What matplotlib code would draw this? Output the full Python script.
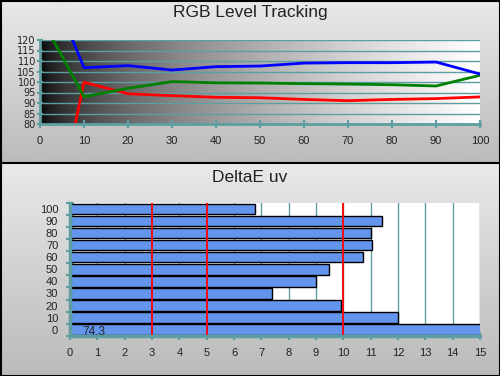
import numpy as np
import matplotlib
matplotlib.use("Agg")
import matplotlib.pyplot as plt

# ------------------------------
# Data
# ------------------------------
levels = [0, 10, 20, 30, 40, 50, 60, 70, 80, 90, 100]
red_vals = [0.5, 99.9, 94.4, 93.5, 92.7, 92.5, 91.7, 91.1, 91.7, 92.1, 92.9]
green_vals = [131.6, 93.0, 97.0, 100.2, 99.6, 99.5, 99.2, 99.0, 98.7, 98.1, 103.2]
blue_vals = [157.6, 106.8, 107.8, 105.7, 107.3, 107.6, 109.0, 109.2, 109.2, 109.5, 103.8]

de_levels = [0, 10, 20, 30, 40, 50, 60, 70, 80, 90, 100]
de_vals = [74.3, 12.01, 9.93, 7.40, 9.01, 9.49, 10.71, 11.06, 11.0, 11.43, 6.78]
de_limits = [3, 5, 10]

W, H = 500, 376
TEAL = "#5F9EA0"
TXT = "#222222"
plt.rcParams["font.family"] = ["Liberation Sans", "DejaVu Sans"]


def px_axes(fig, x0, y0, x1, y1, **kw):
    # pixel box (top-left origin) -> figure fraction axes
    return fig.add_axes([x0 / W, 1 - y1 / H, (x1 - x0) / W, (y1 - y0) / H], **kw)


fig = plt.figure(figsize=(W / 100, H / 100), dpi=100)

# ------------------------------
# Background panels (vertical gray gradients)
# ------------------------------
bg = px_axes(fig, 0, 0, W, H)
bg.set_axis_off()
bg.set_xlim(0, W)
bg.set_ylim(H, 0)
grad = np.linspace(0.91, 0.73, 64).reshape(-1, 1)
bg.imshow(grad, cmap="gray", vmin=0, vmax=1, extent=(0, W, 163, 0), aspect="auto")
bg.imshow(grad, cmap="gray", vmin=0, vmax=1, extent=(0, W, H, 163), aspect="auto")
bg.plot([0, W], [163, 163], color="black", lw=1.5)
bg.plot([0.5, W - 0.5, W - 0.5, 0.5, 0.5], [0.5, 0.5, H - 0.5, H - 0.5, 0.5], color="black", lw=1.5)

fig.text(0.5, 1 - 13 / H, "RGB Level Tracking", ha="center", va="center", fontsize=12.5, color=TXT)
fig.text(0.5, 1 - 177 / H, "DeltaE uv", ha="center", va="center", fontsize=12.5, color=TXT)

# ------------------------------
# Top: RGB level tracking
# ------------------------------
ax = px_axes(fig, 40, 40, 480, 124)
hgrad = np.sqrt(np.linspace(0, 1, 256)).reshape(1, -1) ** 1.1
ax.imshow(hgrad, cmap="gray", vmin=0, vmax=1, extent=(0, 100, 80, 120), aspect="auto", zorder=0)
ax.plot(levels, red_vals, color="red", lw=2)
ax.plot(levels, green_vals, color="green", lw=2)
ax.plot(levels, blue_vals, color="blue", lw=2)
ax.set_xlim(0, 100)
ax.set_ylim(80, 120)
ax.set_xticks(range(0, 101, 10))
ax.set_yticks(range(80, 121, 5))
ax.grid(axis="y", color=TEAL, lw=1)
for s in ["top", "right"]:
    ax.spines[s].set_visible(False)
for s in ["left", "bottom"]:
    ax.spines[s].set_color(TEAL)
    ax.spines[s].set_linewidth(2)
ax.tick_params(axis="x", direction="inout", length=6, width=1.5, color=TEAL,
               labelsize=8, labelcolor=TXT, pad=6)
ax.tick_params(axis="y", direction="inout", length=5, width=1.5, color=TEAL,
               labelsize=7, labelcolor=TXT, pad=0.5)
for lab in ax.get_yticklabels():
    lab.set_family("DejaVu Sans")

# ------------------------------
# Bottom: DeltaE uv bars
# ------------------------------
bx = px_axes(fig, 70, 203, 480, 335.7)
bx.set_facecolor("white")
ypos = np.arange(len(de_levels))
bx.barh(ypos, de_vals, height=0.86, color="#6495ED", edgecolor="black", lw=1, zorder=2)
for lim in de_limits:
    bx.axvline(lim, color="red", lw=1.3, zorder=3)
bx.text(0.45, -0.15, f"{de_vals[0]:.1f}".replace(".", ","), fontsize=8.5, color=TXT,
        va="center", ha="left", zorder=4)
bx.set_xlim(0, 15)
bx.set_ylim(-0.5, len(de_levels) - 0.5)
bx.set_xticks(range(0, 16))
bx.set_yticks(ypos)
bx.set_yticklabels([str(v) for v in de_levels])
bx.set_yticks(np.arange(-0.5, len(de_levels), 1.0), minor=True)
bx.grid(axis="x", color=TEAL, lw=1, zorder=1)
bx.set_axisbelow(True)
for s in ["top", "right"]:
    bx.spines[s].set_visible(False)
for s in ["left", "bottom"]:
    bx.spines[s].set_color(TEAL)
    bx.spines[s].set_linewidth(2.5)
    bx.spines[s].set_zorder(5)
bx.tick_params(axis="x", direction="inout", length=6, width=1.5, color=TEAL,
               labelsize=8, labelcolor=TXT, pad=5.5)
bx.tick_params(axis="y", which="major", length=0, labelsize=8, labelcolor=TXT, pad=8.5)
bx.tick_params(axis="y", which="minor", direction="inout", length=6, width=1.5, color=TEAL)

fig.savefig("out.png", dpi=100)
